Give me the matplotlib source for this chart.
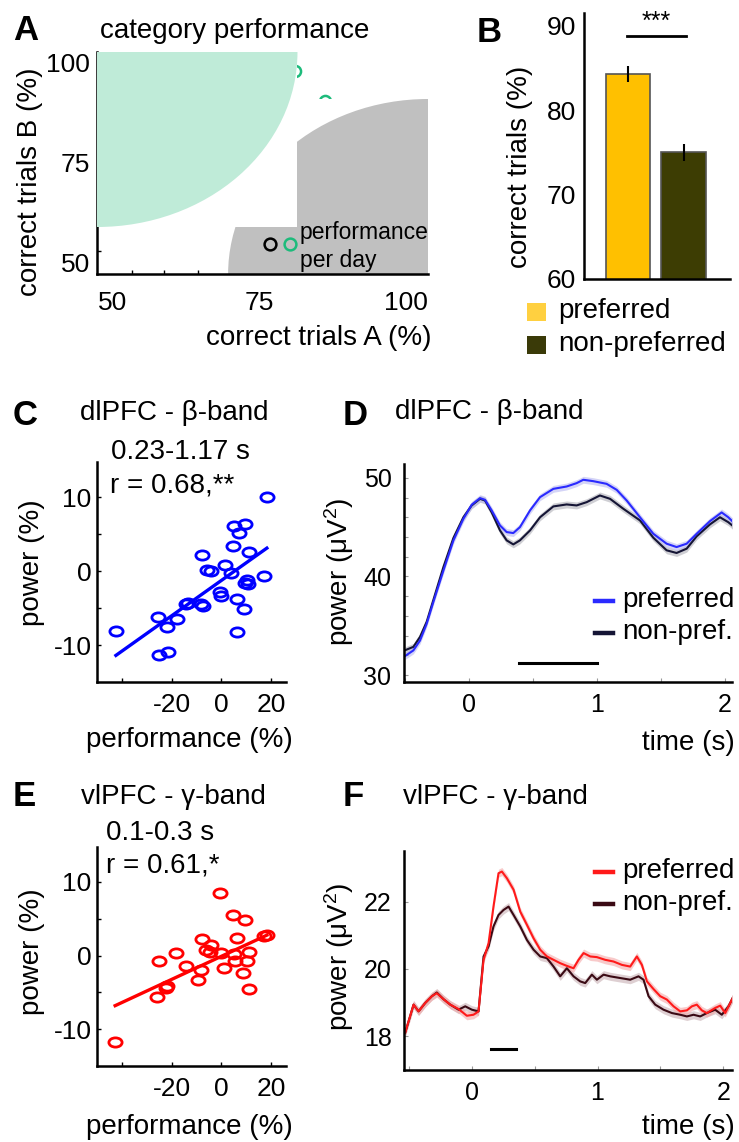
import numpy as np
import matplotlib
matplotlib.use("Agg")
import matplotlib.pyplot as plt
from matplotlib.patches import Rectangle, Ellipse
from matplotlib.lines import Line2D
from matplotlib.path import Path
from matplotlib.transforms import Affine2D

plt.rcParams['font.family'] = ['Liberation Sans', 'DejaVu Sans']
plt.rcParams['font.size'] = 20
plt.rcParams['xtick.labelsize'] = 19
plt.rcParams['ytick.labelsize'] = 19
plt.rcParams['axes.unicode_minus'] = False
plt.rcParams['mathtext.fontset'] = 'custom'
plt.rcParams['mathtext.rm'] = 'Liberation Sans'
plt.rcParams['mathtext.it'] = 'Liberation Sans:italic'
plt.rcParams['mathtext.bf'] = 'Liberation Sans:bold'

# ---- data ----
# A: per-day performance points (mostly hidden) and legend
a_day_x = [81.0, 86.2]
a_day_y = [98.0, 90.4]
a_green_right = 81.5   # edge of "B preferred" region
a_green_bottom = 59.0
a_grey_left = 69.7     # edge of "A preferred" region
a_grey_top = 91.0

# B: correct trials
b_groups = ['preferred', 'non-preferred']
b_means = [84.26, 75.0]
b_errs = [0.99, 1.0]

# C: dlPFC beta, performance vs power
c_perf = [18.3, 5.2, 9.6, 7.2, 4.7, 11.3, -7.7, 1.3, -5.7, -4.1, 4.0, 17.2, 10.3, 10.9, 9.6,
          -0.4, 0.0, 6.3, -13.3, -14.4, -8.0, -7.3, 9.2, -25.5, -18.0, -22.0, -42.4, 6.3, -25.1, -21.3]
c_power = [9.95, 6.1, 6.4, 5.1, 3.4, 2.6, 2.2, 0.8, 0.2, 0.05, -0.3, -0.6, -1.2, -1.75, -1.6,
           -2.8, -3.4, -3.8, -4.3, -4.5, -4.5, -4.7, -5.1, -6.2, -6.5, -7.6, -8.1, -8.3, -11.3, -11.0]
c_slope, c_icpt = 0.239, -1.27

# E: vlPFC gamma
e_perf = [-42.7, -0.4, 4.5, 9.6, -7.7, 6.3, 18.3, 17.3, -4.0, -6.0, -4.4, -18.4, 0.0, 4.9,
          11.3, -25.1, -14.4, 5.3, 10.3, 0.9, -8.0, 8.7, -9.3, -21.7, -22.4, -25.7, 11.3]
e_power = [-11.8, 8.55, 5.5, 4.9, 2.2, 2.4, 2.8, 2.7, 1.45, 0.7, 0.5, 0.3, 0.3, 0.2,
           0.5, -0.8, -1.35, -0.8, -0.8, -1.7, -2.0, -2.3, -3.3, -4.1, -4.4, -5.6, -4.6]
e_slope, e_icpt = 0.157, -0.1

# D: dlPFC beta power over time
d_t_pref = [-0.5, -0.435, -0.383, -0.331, -0.279, -0.2, -0.122, -0.044, 0.021, 0.086, 0.125, 0.177,
            0.242, 0.294, 0.346, 0.398, 0.477, 0.555, 0.659, 0.763, 0.841, 0.893, 0.971, 1.075,
            1.154, 1.232, 1.336, 1.44, 1.544, 1.622, 1.701, 1.779, 1.883, 1.974, 2.026, 2.073]
d_pref = [31.93, 32.5, 33.5, 35.2, 37.4, 40.6, 43.65, 45.85, 47.27, 47.94, 47.77, 46.7,
          45.17, 44.5, 44.4, 45.0, 46.7, 48.04, 48.88, 49.12, 49.46, 49.8, 49.66, 49.39,
          48.78, 47.7, 46.0, 44.33, 43.32, 42.98, 43.32, 44.33, 45.61, 46.49, 46.0, 45.4]
d_t_non = [-0.5, -0.435, -0.383, -0.331, -0.279, -0.2, -0.122, -0.044, 0.021, 0.086, 0.125, 0.177,
           0.242, 0.294, 0.346, 0.398, 0.477, 0.555, 0.659, 0.763, 0.841, 0.919, 1.023, 1.102,
           1.206, 1.336, 1.44, 1.544, 1.622, 1.701, 1.779, 1.883, 1.961, 2.026, 2.073]
d_non = [32.52, 32.86, 33.87, 35.4, 37.6, 40.96, 43.9, 46.0, 47.2, 47.87, 47.7, 46.5,
         44.67, 43.66, 43.25, 43.66, 44.67, 46.0, 47.1, 47.3, 47.2, 47.53, 48.21, 47.87,
         46.86, 45.68, 43.93, 42.65, 42.38, 42.82, 44.07, 45.28, 46.0, 45.5, 45.0]
d_sem = 0.35
d_sig = [0.393, 1.003]
d_sig_y = 31.18

# F: vlPFC gamma power over time
f_t_pref = [-0.531, -0.504, -0.464, -0.424, -0.371, -0.318, -0.279, -0.225, -0.172, -0.106,
            -0.04, 0.013, 0.053, 0.093, 0.133, 0.172, 0.212, 0.239, 0.279, 0.332, 0.385, 0.438,
            0.491, 0.544, 0.597, 0.65, 0.703, 0.756, 0.809, 0.849, 0.889, 0.942, 0.995, 1.061,
            1.127, 1.194, 1.26, 1.313, 1.353, 1.393, 1.446, 1.499, 1.552, 1.605, 1.658, 1.711,
            1.751, 1.79, 1.83, 1.87, 1.936, 1.976, 2.016, 2.095]
f_pref = [18.1, 18.44, 18.94, 18.74, 18.99, 19.19, 19.28, 19.1, 18.94, 18.81,
          18.61, 18.64, 18.74, 20.27, 20.77, 21.85, 22.84, 22.89, 22.69, 22.35, 21.7, 21.31,
          20.91, 20.57, 20.37, 20.27, 20.17, 20.09, 20.02, 20.27, 20.47, 20.37, 20.35, 20.27,
          20.22, 20.12, 20.07, 20.37, 20.12, 19.63, 19.4, 19.19, 19.09, 18.89, 18.74, 18.77,
          18.89, 18.94, 18.77, 18.69, 18.84, 18.91, 18.69, 19.28]
f_t_non = [-0.531, -0.504, -0.464, -0.424, -0.371, -0.318, -0.279, -0.225, -0.172, -0.106,
           -0.053, 0.0, 0.053, 0.093, 0.133, 0.172, 0.212, 0.252, 0.292, 0.332, 0.385, 0.438,
           0.491, 0.544, 0.597, 0.65, 0.703, 0.756, 0.809, 0.862, 0.902, 0.955, 0.995, 1.048,
           1.101, 1.18, 1.26, 1.326, 1.366, 1.406, 1.459, 1.525, 1.592, 1.658, 1.711, 1.764,
           1.817, 1.87, 1.936, 1.989, 2.042, 2.095]
f_non = [18.1, 18.44, 18.94, 18.74, 18.99, 19.19, 19.3, 19.1, 18.94, 18.79,
         18.89, 18.79, 18.74, 20.37, 20.67, 21.26, 21.6, 21.75, 21.85, 21.6, 21.26, 20.86,
         20.57, 20.37, 20.32, 20.07, 19.78, 20.02, 19.78, 19.63, 19.58, 19.83, 19.68, 19.83,
         19.78, 19.73, 19.68, 19.78, 19.68, 19.19, 18.94, 18.79, 18.69, 18.64, 18.59, 18.64,
         18.59, 18.69, 18.79, 18.64, 18.89, 19.28]
f_sem = 0.12
f_sig = [0.151, 0.353]
f_sig_y = 17.62

W, H = 739, 1142
fig = plt.figure(figsize=(W / 100, H / 100), dpi=100)


def px_axes(l, t, r, b):
    return fig.add_axes([l / W, 1 - b / H, (r - l) / W, (b - t) / H])


def px_text(x, y, s, **kw):
    kw.setdefault('va', 'center')
    fig.text(x / W, 1 - y / H, s, **kw)


def clean(ax, lw=1.8):
    ax.spines[['top', 'right']].set_visible(False)
    for s in ['left', 'bottom']:
        ax.spines[s].set_linewidth(lw)
    ax.patch.set_alpha(0)


# ---------------- A ----------------
axA = px_axes(97, 52, 428, 274)
x0, x1, y0, y1 = 47.4, 103.7, 47.25, 102.75
axA.set_xlim(x0, x1)
axA.set_ylim(y0, y1)
clean(axA)
axA.spines['bottom'].set_zorder(10)
axA.plot(a_day_x, a_day_y, 'o', mfc='none', mec='#1dbb7b', ms=8, mew=1.8, zorder=2)
axA.add_patch(Rectangle((a_grey_left, y0), x1 - a_grey_left, a_grey_top - y0,
                        fc='white', ec='none', zorder=3))
axA.add_patch(Ellipse((x1, y0), 2 * (x1 - a_grey_left), 2 * (a_grey_top - y0),
                      fc='#c0c0c0', ec='none', zorder=3.1))
axA.add_patch(Rectangle((x0, a_green_bottom), a_green_right - x0, y1 - a_green_bottom,
                        fc='white', ec='none', zorder=4))
axA.add_patch(Ellipse((x0, y1), 2 * (a_green_right - x0), 2 * (y1 - a_green_bottom),
                      fc='#bfebd8', ec='none', zorder=4.1))
axA.plot([76.8], [54.75], 'o', mfc='none', mec='black', ms=8.5, mew=1.8, zorder=6)
axA.plot([80.2], [54.75], 'o', mfc='none', mec='#1dbb7b', ms=8.5, mew=1.8, zorder=6)
axA.set_xticks([50, 75, 100])
axA.set_yticks([50, 75, 100])
axA.set_xticks([53.4, 58.8, 64.5], minor=True)
axA.set_yticks([53.1], minor=True)
axA.tick_params(which='major', length=0)
axA.tick_params(axis='x', which='major', pad=12)
axA.tick_params(axis='y', which='major', pad=5)
axA.tick_params(which='minor', direction='in', length=3, width=1)
px_text(13, 30, 'A', fontsize=25, fontweight='bold')
px_text(100, 31, 'category performance')
px_text(30, 182, 'correct trials B (%)', rotation=90, ha='center')
px_text(431, 338, 'correct trials A (%)', ha='right')
px_text(300, 232, 'performance', fontsize=16.5)
px_text(300, 260, 'per day', fontsize=16.5)

# ---------------- B ----------------
axB = px_axes(584, 13, 730, 279)
b_pos = [1, 2]
axB.bar(b_pos, b_means, width=0.8, color=['#ffc000', '#3d3d03'], edgecolor='#555555',
        linewidth=1.2, zorder=2)
axB.errorbar(b_pos, b_means, yerr=b_errs, fmt='none', ecolor='black', elinewidth=1.5,
             capsize=0, zorder=3)
axB.set_ylim(60, 91.5)
axB.set_xlim(0.2, 2.84)
clean(axB)
axB.set_xticks([])
axB.set_yticks([60, 70, 80, 90])
axB.tick_params(length=0, pad=6)
axB.plot([0.975, 2.04], [88.8, 88.8], color='black', lw=2, clip_on=False)
axB.text(1.5, 89.0, '***', ha='center', va='bottom', fontsize=18)
px_text(477, 33, 'B', fontsize=25, fontweight='bold')
px_text(520, 167, 'correct trials (%)', rotation=90, ha='center')
fig.add_artist(Rectangle((527 / W, 1 - 321 / H), 19 / W, 18 / H, transform=fig.transFigure,
                         fc='#ffd040', ec='none'))
fig.add_artist(Rectangle((527 / W, 1 - 354 / H), 19 / W, 18 / H, transform=fig.transFigure,
                         fc='#3a3a08', ec='none'))
px_text(558, 311, b_groups[0])
px_text(558, 344, b_groups[1])

# ---------------- C / E ----------------
ell = Path.unit_circle().transformed(Affine2D().scale(1.0, 0.7))


def scatter_panel(ax, x, y, slope, icpt, color):
    ax.plot(x, y, linestyle='none', marker=ell, ms=9.5, mfc='none', mec=color, mew=2.0,
            clip_on=False)
    fx = np.array([min(x), max(x)])
    ax.plot(fx, icpt + slope * fx, color=color, lw=2.4)
    ax.set_xlim(-50, 26)
    ax.set_ylim(-15, 14.75)
    clean(ax)
    ax.set_xticks([-40, -20, 0, 20])
    ax.set_xticklabels(['', '-20', '0', '20'])
    ax.set_yticks([-10, 0, 10])
    ax.set_yticks([-5, 5], minor=True)
    ax.tick_params(which='both', direction='in', length=3, width=1)
    ax.tick_params(axis='x', pad=8)
    ax.tick_params(axis='y', pad=4)


axC = px_axes(97, 462, 286, 682)
scatter_panel(axC, c_perf, c_power, c_slope, c_icpt, '#0000ff')
px_text(13, 415, 'C', fontsize=25, fontweight='bold')
px_text(174, 413, 'dlPFC - β-band', ha='center')
px_text(180, 452, '0.23-1.17 s', ha='center')
px_text(110, 485, 'r = 0.68,**')
px_text(32, 563, 'power (%)', rotation=90, ha='center')
px_text(189, 740, 'performance (%)', ha='center')

axE = px_axes(97, 847, 286, 1066)
scatter_panel(axE, e_perf, e_power, e_slope, e_icpt, '#ff0000')
px_text(13, 797, 'E', fontsize=25, fontweight='bold')
px_text(173, 797, 'vlPFC - γ-band', ha='center')
px_text(160, 833, '0.1-0.3 s', ha='center')
px_text(106, 865, 'r = 0.61,*')
px_text(32, 952, 'power (%)', rotation=90, ha='center')
px_text(189, 1127, 'performance (%)', ha='center')


# ---------------- D / F ----------------
def time_panel(ax, t1, v1, t2, v2, sem, c1, c2, b1, b2, sig, sig_y):
    t1, v1, t2, v2 = map(np.array, (t1, v1, t2, v2))
    ax.fill_between(t2, v2 - sem, v2 + sem, color=b2, lw=0, alpha=0.6)
    ax.fill_between(t1, v1 - sem, v1 + sem, color=b1, lw=0, alpha=0.6)
    ax.plot(t2, v2, color=c2, lw=1.5)
    ax.plot(t1, v1, color=c1, lw=1.5)
    ax.plot(sig, [sig_y, sig_y], color='black', lw=2.2)
    clean(ax)
    ax.set_xticks([0, 1, 2])
    ax.set_xticks([-0.5, 0.5, 1.5], minor=True)
    ax.tick_params(which='both', direction='in', length=3, width=0.8, color='#999999',
                   labelsize=18)
    ax.tick_params(axis='x', pad=8)
    ax.tick_params(axis='y', pad=9)


axD = px_axes(404, 464, 732, 682)
time_panel(axD, d_t_pref, d_pref, d_t_non, d_non, d_sem, '#2a2aff', '#151535',
           '#b8b8f2', '#b0b0b8', d_sig, d_sig_y)
axD.set_xlim(-0.508, 2.055)
axD.set_ylim(29.3, 51.4)
axD.set_yticks([30, 40, 50])
axD.set_yticks(np.arange(32, 50, 2), minor=True)
px_text(343, 415, 'D', fontsize=25, fontweight='bold')
px_text(395, 412, 'dlPFC - β-band')
px_text(339, 572, 'power (μV$^2$)', rotation=90, ha='center')
px_text(735, 743, 'time (s)', ha='right')
fig.add_artist(Line2D([595 / W, 613 / W], [1 - 601 / H] * 2, color='#2a2aff', lw=3.2))
fig.add_artist(Line2D([595 / W, 613 / W], [1 - 633 / H] * 2, color='#151535', lw=3.2))
px_text(622, 600, 'preferred')
px_text(622, 632, 'non-pref.')

axF = px_axes(404, 851, 732, 1070)
time_panel(axF, f_t_pref, f_pref, f_t_non, f_non, f_sem, '#ff1a1a', '#3a0a14',
           '#f4a8a8', '#c8b0b4', f_sig, f_sig_y)
axF.set_xlim(-0.54, 2.07)
axF.set_ylim(17.0, 23.5)
axF.set_yticks([18, 20, 22])
px_text(343, 797, 'F', fontsize=25, fontweight='bold')
px_text(403, 797, 'vlPFC - γ-band')
px_text(339, 957, 'power (μV$^2$)', rotation=90, ha='center')
px_text(735, 1127, 'time (s)', ha='right')
fig.add_artist(Line2D([595 / W, 613 / W], [1 - 872 / H] * 2, color='#ff1a1a', lw=3.2))
fig.add_artist(Line2D([595 / W, 613 / W], [1 - 904 / H] * 2, color='#3a0a14', lw=3.2))
px_text(622, 871, 'preferred')
px_text(622, 903, 'non-pref.')

fig.savefig('out.png', dpi=100)
